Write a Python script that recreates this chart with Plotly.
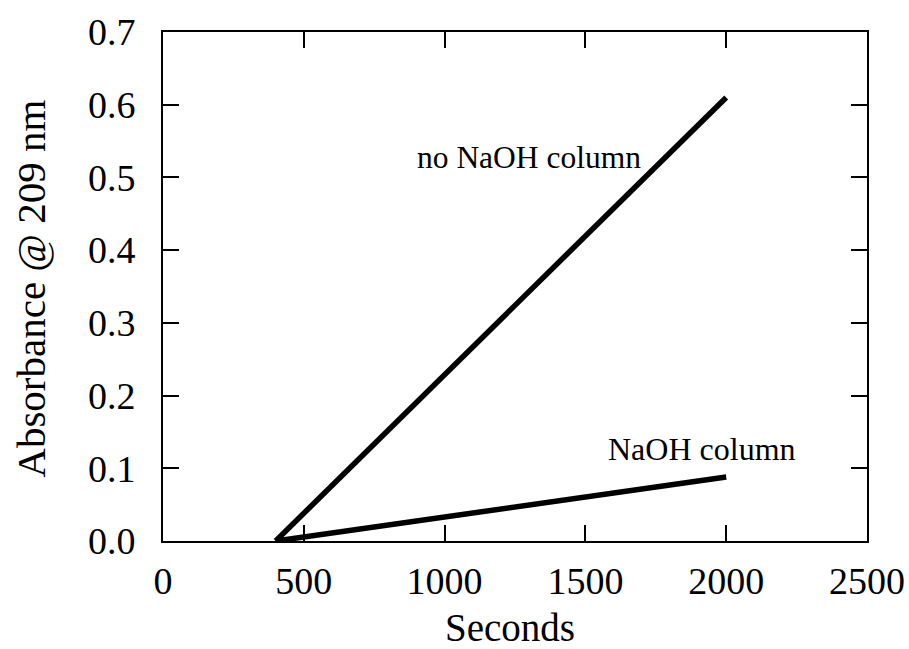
import plotly.graph_objects as go

# Elapsed time (s) and absorbance at 209 nm for the two set-ups
seconds_no_naoh = [400, 2000]
absorb_no_naoh = [0.0, 0.61]
seconds_naoh = [400, 2000]
absorb_naoh = [0.0, 0.088]

x_ticks = [0, 500, 1000, 1500, 2000, 2500]
y_ticks = [0.0, 0.1, 0.2, 0.3, 0.4, 0.5, 0.6, 0.7]

FONT = "Liberation Serif, Times New Roman, serif"

fig = go.Figure()
fig.add_trace(go.Scatter(x=seconds_no_naoh, y=absorb_no_naoh, mode="lines",
                         line=dict(color="black", width=5.5), showlegend=False))
fig.add_trace(go.Scatter(x=seconds_naoh, y=absorb_naoh, mode="lines",
                         line=dict(color="black", width=5.5), showlegend=False))

fig.add_annotation(x=1300, y=0.527, text="no NaOH column", showarrow=False,
                   font=dict(family=FONT, size=31.5, color="black"))
fig.add_annotation(x=1915, y=0.127, text="NaOH column", showarrow=False,
                   font=dict(family=FONT, size=32, color="black"))

# Axis titles
fig.add_annotation(xref="paper", yref="paper", x=0.493, y=-0.169,
                   xanchor="center", yanchor="middle", text="Seconds",
                   showarrow=False, font=dict(family=FONT, size=39, color="black"))
fig.add_annotation(xref="paper", yref="paper", x=-0.188, y=0.495,
                   xanchor="center", yanchor="middle", textangle=-90,
                   text="Absorbance @ 209 nm", showarrow=False,
                   font=dict(family=FONT, size=41, color="black"))

axis_common = dict(showline=True, linecolor="black", linewidth=2, mirror="ticks",
                   ticks="inside", ticklen=16, tickwidth=2, tickcolor="black",
                   showgrid=False, zeroline=False, automargin=False,
                   tickfont=dict(family=FONT, size=38, color="black"))

fig.update_xaxes(range=[0, 2500], tickvals=x_ticks,
                 ticktext=[str(v) for v in x_ticks], ticklabelstandoff=5,
                 **axis_common)
fig.update_yaxes(range=[0, 0.7], tickvals=y_ticks,
                 ticktext=[f"{v:.1f}" for v in y_ticks], ticklabelstandoff=18,
                 **axis_common)

fig.update_layout(width=909, height=649, margin=dict(l=163, r=42, t=32, b=108),
                  paper_bgcolor="white", plot_bgcolor="white",
                  font=dict(family=FONT, color="black"))

fig.write_html("out.html")
